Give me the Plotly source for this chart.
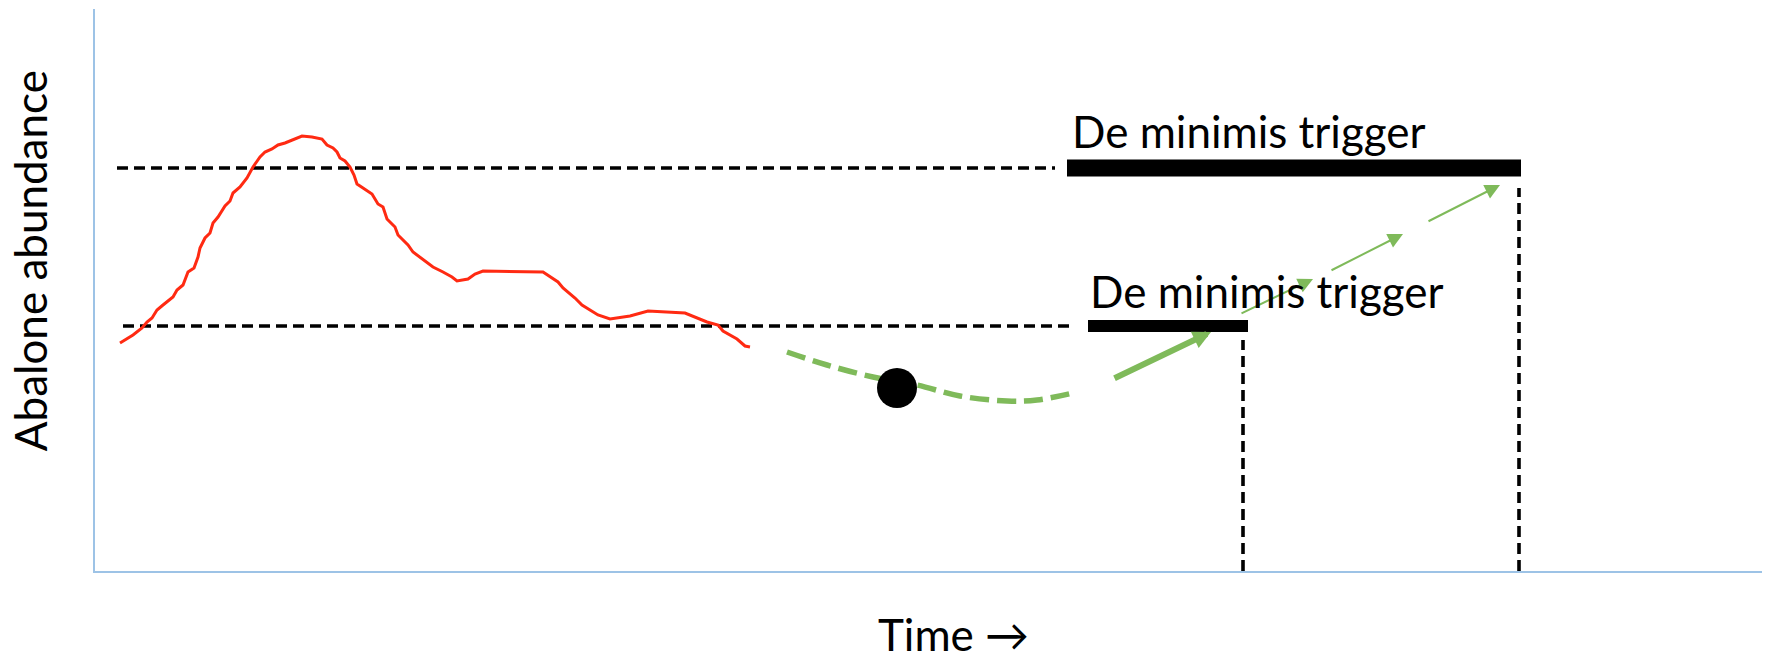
import plotly.graph_objects as go

# ---- data (arbitrary units: time along x, abundance along y) ----
red_t = [25, 38, 47, 52, 57, 62, 68, 78, 82, 88, 93, 99, 103, 105, 110, 115, 118, 123, 130, 135,
         138, 145, 152, 158, 165, 170, 177, 183, 190, 198, 207, 217, 227, 232, 238, 242, 245, 250,
         255, 259, 262, 268, 277, 283, 288, 292, 300, 303, 313, 318, 325, 333, 338, 348, 357, 362,
         373, 380, 388, 448, 455, 463, 468, 475, 480, 487, 497, 503, 515, 535, 553, 590, 612, 623,
         628, 642, 650, 655]
red_a = [228, 236, 243, 249, 253, 261, 266, 274, 281, 286, 299, 303, 314, 323, 333, 338, 348, 354, 365, 370,
         378, 384, 393, 404, 414, 419, 422, 426, 428, 431, 435, 434, 432, 426, 423, 419, 413, 410,
         404, 396, 387, 383, 377, 367, 364, 352, 344, 336, 326, 319, 314, 308, 304, 299, 294, 290,
         292, 297, 300, 299, 294, 289, 283, 277, 273, 266, 260, 256, 252, 255, 260, 258, 249, 246,
         240, 232, 225, 224]

green_t = [692, 732, 778, 822, 865, 912, 942, 978]
green_a = [219, 206, 194, 186, 175, 170, 171, 178]

point_t = [802]
point_a = [183]

lower_level = 245
upper_level = 403
lower_dash_t = [28, 978]
upper_dash_t = [22, 960]
lower_bar_t = [993, 1153]
upper_bar_t = [972, 1426]
lower_drop_t = 1148
lower_drop_top = 231
upper_drop_t = 1424
upper_drop_top = 383

# arrows: (tail_t, tail_a, tip_t, tip_a)
thick_arrow = (1018, 192, 1116, 239)
thin_arrows = [(1145, 257, 1218, 292), (1235, 300, 1308, 337), (1332, 349, 1405, 386)]

label_text = "De minimis trigger"
label_t = [975, 993]
label_a = [412, 252]

x_title = "Time \u2192"
y_title = "Abalone abundance"

FONT = "Lato"
BLACK = "#000000"
GREEN = "#7fba5a"
RED = "#ff2a12"
AXIS = "#9dc3e6"

fig = go.Figure()

# horizontal dashed reference lines
for span, lvl in [(upper_dash_t, upper_level), (lower_dash_t, lower_level)]:
    fig.add_trace(go.Scatter(x=span, y=[lvl, lvl], mode="lines",
                             line=dict(color=BLACK, width=3.6, dash="11px,6px"),
                             hoverinfo="skip", showlegend=False))

# vertical dashed drop lines
for t, top in [(lower_drop_t, lower_drop_top), (upper_drop_t, upper_drop_top)]:
    fig.add_trace(go.Scatter(x=[t, t], y=[0, top], mode="lines",
                             line=dict(color=BLACK, width=3.6, dash="11px,6px"),
                             hoverinfo="skip", showlegend=False))

# trigger bars
fig.add_trace(go.Scatter(x=upper_bar_t, y=[upper_level, upper_level], mode="lines",
                         line=dict(color=BLACK, width=17), hoverinfo="skip", showlegend=False))
fig.add_trace(go.Scatter(x=lower_bar_t, y=[lower_level, lower_level], mode="lines",
                         line=dict(color=BLACK, width=12), hoverinfo="skip", showlegend=False))

# observed abundance
fig.add_trace(go.Scatter(x=red_t, y=red_a, mode="lines",
                         line=dict(color=RED, width=3), hoverinfo="skip", showlegend=False))

# projected abundance
fig.add_trace(go.Scatter(x=green_t, y=green_a, mode="lines",
                         line=dict(color=GREEN, width=5.5, dash="19px,8px", shape="spline"),
                         hoverinfo="skip", showlegend=False))

# current point
fig.add_trace(go.Scatter(x=point_t, y=point_a, mode="markers",
                         marker=dict(color=BLACK, size=40), hoverinfo="skip", showlegend=False))

annotations = []
tt, ta, ht, ha = thick_arrow
annotations.append(dict(x=ht, y=ha, ax=tt, ay=ta, xref="x", yref="y", axref="x", ayref="y",
                        text="", showarrow=True, arrowhead=2, arrowsize=0.6, arrowwidth=6,
                        arrowcolor=GREEN, standoff=0))
for tt, ta, ht, ha in thin_arrows:
    annotations.append(dict(x=ht, y=ha, ax=tt, ay=ta, xref="x", yref="y", axref="x", ayref="y",
                            text="", showarrow=True, arrowhead=2, arrowsize=1.5, arrowwidth=2,
                            arrowcolor=GREEN, standoff=0))

for t, a in zip(label_t, label_a):
    annotations.append(dict(x=t, y=a, xref="x", yref="y", text=label_text, showarrow=False,
                            xanchor="left", yanchor="bottom",
                            font=dict(family=FONT, size=44, color=BLACK)))

annotations.append(dict(x=0.5147, y=-0.062, xref="paper", yref="paper", text=x_title,
                        showarrow=False, xanchor="center", yanchor="top",
                        font=dict(family=FONT, size=44, color=BLACK)))
annotations.append(dict(x=-0.039, y=0.553, xref="paper", yref="paper", text=y_title,
                        showarrow=False, xanchor="center", yanchor="middle", textangle=-90,
                        font=dict(family=FONT, size=44, color=BLACK)))

fig.update_layout(
    width=1771, height=661,
    margin=dict(l=95, r=9, t=9, b=90),
    paper_bgcolor="white", plot_bgcolor="white",
    annotations=annotations,
    xaxis=dict(range=[0, 1667], showgrid=False, zeroline=False, showticklabels=False,
               ticks="", showline=True, linecolor=AXIS, linewidth=2, fixedrange=True),
    yaxis=dict(range=[0, 562], showgrid=False, zeroline=False, showticklabels=False,
               ticks="", showline=True, linecolor=AXIS, linewidth=2, fixedrange=True),
    font=dict(family=FONT),
)

fig.write_html("out.html", post_script="document.body.style.margin='0';",
               config={"displayModeBar": False})
